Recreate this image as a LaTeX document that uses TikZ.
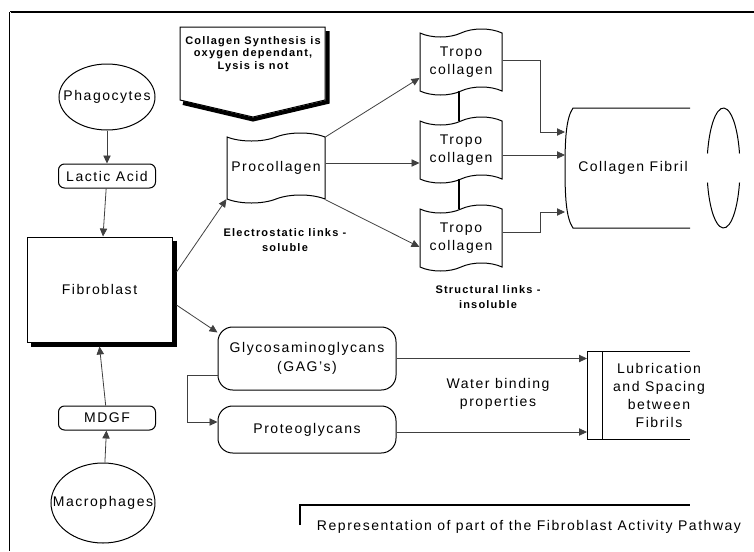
\documentclass[tikz,border=0pt]{standalone}
\usepackage{fontspec}
\setmainfont{Liberation Sans}[LetterSpace=11]
\usetikzlibrary{arrows.meta,shapes.geometric,shapes.symbols}
\tikzset{every picture/.style={line width=0.75pt}}
\tikzset{
  lbl/.style={font=\fontsize{10.5}{14}\selectfont, align=center, inner sep=0.75pt},
  note/.style={font=\fontsize{8.25}{11.25}\selectfont\bfseries, align=center, inner sep=0.75pt},
  cell/.style={draw, ellipse, inner sep=0pt, lbl},
  pill/.style={draw, rounded corners=4.5pt, minimum width=72.75pt, minimum height=18pt, lbl},
  scroll/.style={draw, tape, tape bend height=6pt, lbl},
  slab/.style={draw, rounded corners=11pt, minimum width=133.5pt, lbl},
  flow/.style={draw=black!75, line width=0.6pt, -{Triangle[length=6pt,width=5.5pt]}},
  shadowline/.style={draw=black, line width=3pt, line join=miter},
}

\begin{document}
\begin{tikzpicture}[x=0.75pt,y=0.75pt,yscale=-1,xscale=1]
\useasboundingbox (0,0) rectangle (754,551);

%frame
\draw [line width=1.5pt] (10,12) -- (754,12) ;
\draw [double, double distance=0.75pt, line width=0.5pt] (10,12) -- (10,551) ;

%left column
\node [cell, minimum width=72pt, minimum height=49.5pt] (phago) at (107,97) {\makebox[0pt]{Phagocytes}};
\node [pill] (lactic) at (107,176) {Lactic Acid};
\node [draw, fill=white, minimum width=108.75pt, minimum height=78.75pt, lbl] (fibro) at (99.5,289.5) {Fibroblast};
\node [pill] (mdgf) at (107,418) {MDGF};
\node [cell, minimum width=78pt, minimum height=60pt] (macro) at (103,503) {\makebox[0pt]{Macrophages}};
\draw [shadowline] ([shift={(2.5,4)}]fibro.north east) -- ([shift={(2.5,2.5)}]fibro.south east) -- ([shift={(4,2.5)}]fibro.south west) ;

\draw [flow] (phago) -- (lactic) ;
\draw [flow] (lactic) -- (fibro) ;
\draw [flow] (macro) -- (mdgf) ;
\draw [flow] (mdgf) -- ([shift={(0,4)}]fibro.south) ;

%Shape: callout
\draw [fill=white] (180,27) -- (325,27) -- (325,100) -- (253,117) -- (180,100) -- cycle ;
\draw [shadowline] (327.5,31) -- (327.5,102) -- (253,119.5) -- (183,103) ;
\node [note, font=\fontsize{8.25}{9.4}\selectfont\bfseries] (memo) at (253,54) {Collagen Synthesis is\\oxygen dependant,\\Lysis is not};

%collagen branch
\node [scroll, minimum width=73.5pt, minimum height=52.5pt] (proco) at (276,168) {Procollagen};
\node [scroll, minimum width=61.5pt, minimum height=49.5pt] (tropoA) at (461,62) {Tropo\\collagen};
\node [scroll, minimum width=61.5pt, minimum height=49.5pt] (tropoB) at (461,150) {Tropo\\collagen};
\node [scroll, minimum width=61.5pt, minimum height=49.5pt] (tropoC) at (461,238) {Tropo\\collagen};
\node [lbl, minimum width=101.25pt, minimum height=90pt] (fibril) at (633,168) {Collagen Fibril};
\node [note] (elec) at (285,240.5) {Electrostatic links -\\soluble};
\node [note] (struct) at (488,297.5) {Structural links -\\insoluble};

%Shape: fibril cylinder
\draw (690,108) -- (573,108) .. controls (566,118) and (565,140) .. (565,168) .. controls (565,196) and (566,218) .. (573,228) -- (690,228) ;
\draw (723.5,168) ++(14:16.5 and 60) arc [start angle=14, end angle=166, x radius=16.5, y radius=60] ;
\draw (723.5,168) ++(194:16.5 and 60) arc [start angle=194, end angle=346, x radius=16.5, y radius=60] ;

\draw [flow] ([shift={(4,-17.5)}]fibro.east) -- (proco.south west) ;
\draw [flow] (proco.north east) -- ([shift={(0,16)}]tropoA.west) ;
\draw [flow] ([shift={(0,-5)}]proco.east) -- ([shift={(0,13)}]tropoB.west) ;
\draw [flow] (proco.south east) -- ([shift={(0,9)}]tropoC.west) ;
\draw [line width=2pt] ([xshift=-1.5pt]tropoA.south) -- ([xshift=-1.5pt]tropoB.north) ;
\draw [line width=2pt] ([xshift=-1.5pt]tropoB.south) -- ([xshift=-1.5pt]tropoC.north) ;
\draw [flow] ([shift={(0,-2)}]tropoA.east) -- ++(38,0) |- (fibril.west |- 0,132) ;
\draw [flow] ([shift={(0,5)}]tropoB.east) -- (fibril.west |- 0,155) ;
\draw [flow] ([shift={(0,-6)}]tropoC.east) -- ++(38,0) |- (fibril.west |- 0,212) ;

%GAG branch
\node [slab, minimum height=47.25pt] (gag) at (307,358.5) {Glycosaminoglycans\\(GAG's)};
\node [slab, minimum height=35.25pt] (proteo) at (307,429.5) {Proteoglycans};
\node [lbl] (water) at (498,394) {Water binding\\properties};
\node [lbl, font=\fontsize{10.5}{13.5}\selectfont] (lub) at (659,395) {Lubrication\\and Spacing\\between\\Fibrils};
\coordinate (lubleft) at ([shift={(-72,0)}]lub.center);
\draw ([shift={(31,-44)}]lub.center) -- ([shift={(-72,-44)}]lub.center) -- ([shift={(-72,44)}]lub.center) -- ([shift={(31,44)}]lub.center) ;
\draw ([shift={(-57,-44)}]lub.center) -- ([shift={(-57,44)}]lub.center) ;

\draw [flow] ([shift={(4,15.5)}]fibro.east) -- ([shift={(0,6)}]gag.north west) ;
\draw [flow] ([shift={(0,16.5)}]gag.west) -- ++(-30,0) |- ([shift={(0,-7.5)}]proteo.west) ;
\draw [flow] (gag.east) -- (gag.east -| lubleft) ;
\draw [flow] ([shift={(0,2.5)}]proteo.east) -- ([shift={(0,2.5)}]proteo.east -| lubleft) ;

%caption
\draw [line width=1.2pt] (300,525) -- (300,505) -- (690,505) ;
\node [lbl] (caption) at (529,527) {Representation of part of the Fibroblast Activity Pathway};

\end{tikzpicture}
\end{document}
